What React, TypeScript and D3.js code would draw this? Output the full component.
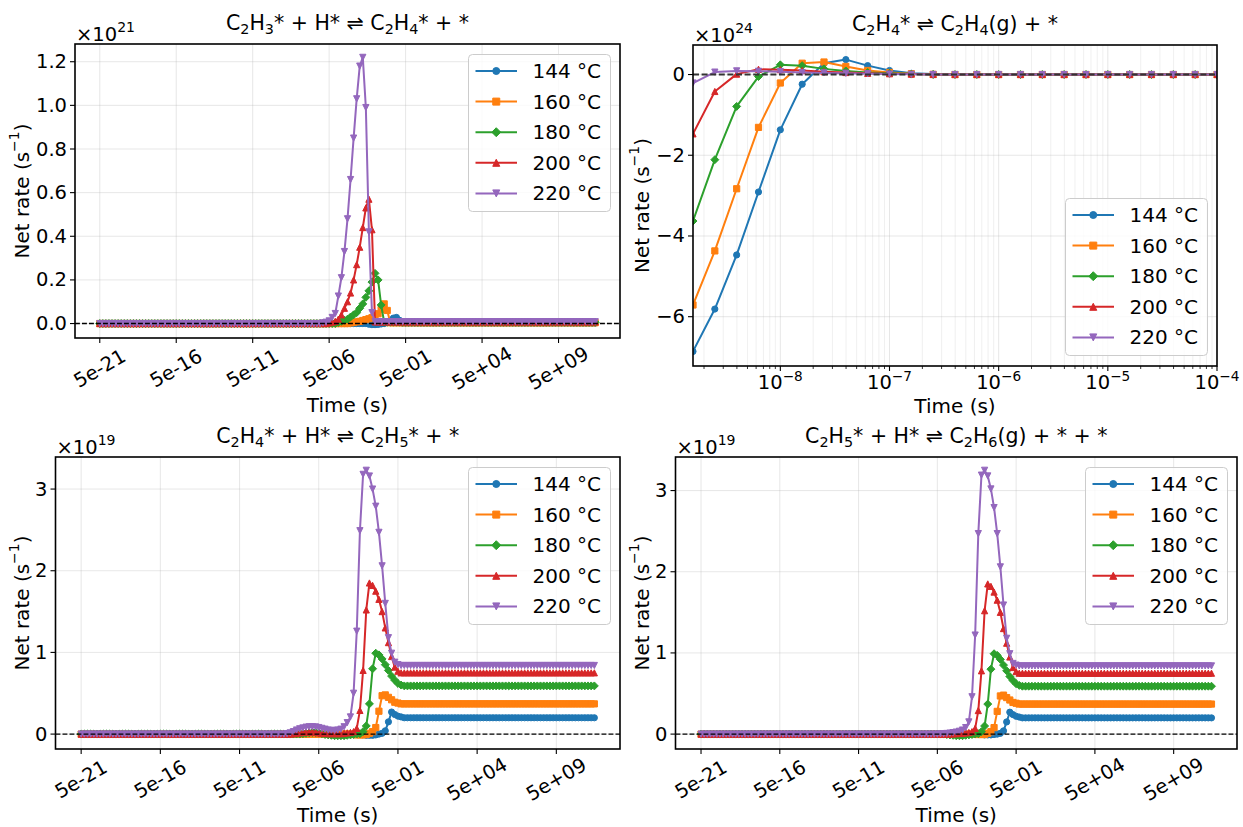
import React from 'react';
import * as d3 from 'd3';

const FONT = "'DejaVu Sans', 'Noto Sans', sans-serif";
const W = 1243;
const H = 827;

const TICK_FS = 19.5;
const LABEL_FS = 20;
const TITLE_FS = 20.5;
const LEGEND_FS = 20;
const MS = 6.2;

const temperatureLabels = ['144 °C', '160 °C', '180 °C', '200 °C', '220 °C'];
const seriesColors = ['#1f77b4', '#ff7f0e', '#2ca02c', '#d62728', '#9467bd'];
const markerShapes = ['circle', 'square', 'diamond', 'triangleUp', 'triangleDown'];

// Long transient: solver output instants from 5e-21 s, five per decade
const longRunStart = 5e-21;
const longRunCount = 163;
const longRunTimes = d3.range(longRunCount).map((i) => longRunStart * Math.pow(10, i / 5));
const longRunTickLabels = ['5e-21', '5e-16', '5e-11', '5e-06', '5e-01', '5e+04', '5e+09'];

// Early window of the desorption step, log10 of each output instant
const desorptionLogTimes = [
  -8.8, -8.6, -8.4, -8.2, -8.0, -7.8, -7.6, -7.4, -7.2, -7.0, -6.8, -6.6, -6.4,
  -6.2, -6.0, -5.8, -5.6, -5.4, -5.2, -5.0, -4.8, -4.6, -4.4, -4.2, -4.0,
];
const desorptionTickExps = [-8, -7, -6, -5, -4];

// ---- C2H3* + H* ⇌ C2H4* + *  (×1e21 s⁻¹) ----
const vinylStart = [88, 82, 78, 75, 73];
const vinylFinal = [0.002, 0.0037, 0.0059, 0.0075, 0.0084];
const vinyl144 = [-0.003, -0.005, -0.005, -0.004, -0.002, 0.0, 0.005, 0.015, 0.025, 0.028, 0.015];
const vinyl160 = [0.003, 0.005, 0.008, 0.01, 0.014, 0.018, 0.022, 0.027, 0.035, 0.045, 0.065, 0.09, 0.06];
const vinyl180 = [0.005, 0.01, 0.015, 0.02, 0.03, 0.04, 0.05, 0.07, 0.09, 0.12, 0.15, 0.19, 0.23, 0.2, 0.085];
const vinyl200 = [0.003, 0.006, 0.01, 0.02, 0.04, 0.07, 0.1, 0.14, 0.2, 0.27, 0.35, 0.44, 0.53, 0.57, 0.43];
const vinyl220 = [0.003, 0.006, 0.012, 0.028, 0.046, 0.126, 0.21, 0.33, 0.48, 0.66, 0.85, 1.03, 1.18, 1.22, 0.99, 0.42, 0.05];

// ---- C2H4* ⇌ C2H4(g) + *  (×1e24 s⁻¹) ----
const desorb144 = [-6.86, -5.81, -4.47, -2.91, -1.37, -0.24, 0.28, 0.37, 0.22, 0.1, 0.03, 0.01, 0, 0, 0, 0, 0, 0, 0, 0, 0, 0, 0, 0, 0];
const desorb160 = [-5.71, -4.37, -2.83, -1.31, -0.21, 0.28, 0.31, 0.2, 0.1, 0.05, 0.02, 0.005, 0, 0, 0, 0, 0, 0, 0, 0, 0, 0, 0, 0, 0];
const desorb180 = [-3.63, -2.11, -0.79, -0.05, 0.24, 0.22, 0.14, 0.09, 0.05, 0.03, 0.01, 0, 0, 0, 0, 0, 0, 0, 0, 0, 0, 0, 0, 0, 0];
const desorb200 = [-1.47, -0.42, 0.01, 0.13, 0.12, 0.1, 0.07, 0.05, 0.03, 0.02, 0.01, 0, 0, 0, 0, 0, 0, 0, 0, 0, 0, 0, 0, 0, 0];
const desorb220 = [-0.21, 0.06, 0.09, 0.08, 0.07, 0.05, 0.04, 0.03, 0.02, 0.01, 0.005, 0, 0, 0, 0, 0, 0, 0, 0, 0, 0, 0, 0, 0, 0];

// ---- C2H4* + H* ⇌ C2H5* + *  (×1e19 s⁻¹) ----
const ethylStart = [88, 86, 70, 67, 65];
const ethylFinal = [0.2, 0.37, 0.59, 0.75, 0.84];
const ethyl144 = [-0.005, -0.01, -0.015, -0.015, -0.015, -0.01, 0.0, 0.01, 0.04, 0.15, 0.27, 0.24, 0.22, 0.21];
const ethyl160 = [-0.005, -0.01, -0.01, -0.01, -0.005, 0.01, 0.03, 0.08, 0.28, 0.47, 0.48, 0.45, 0.42, 0.39, 0.38];
const ethyl180 = [
  0.005, 0.01, 0.015, 0.02, 0.02, 0.015, 0.005, -0.005, -0.01, -0.015, -0.02, -0.02, -0.02, -0.02, -0.015, -0.01,
  -0.005, 0.0, 0.005, 0.03, 0.1, 0.37, 0.8, 0.99, 0.97, 0.92, 0.85, 0.78, 0.71, 0.66, 0.62, 0.6,
];
const ethyl200 = [
  0.005, 0.01, 0.015, 0.02, 0.025, 0.025, 0.025, 0.02, 0.015, 0.01, 0.008, 0.005, 0.005, 0.005, 0.005, 0.005, 0.01,
  0.015, 0.02, 0.03, 0.07, 0.29, 0.78, 1.52, 1.85, 1.82, 1.75, 1.65, 1.5, 1.3, 1.12, 0.95, 0.82, 0.77,
];
const ethyl220 = [
  0.005, 0.015, 0.03, 0.05, 0.065, 0.075, 0.085, 0.09, 0.09, 0.088, 0.08, 0.07, 0.06, 0.05, 0.045, 0.045, 0.05,
  0.06, 0.09, 0.14, 0.21, 0.5, 1.26, 2.49, 3.18, 3.23, 3.16, 3.0, 2.79, 2.47, 2.06, 1.6, 1.18, 0.99, 0.88, 0.85,
];

// ---- C2H5* + H* ⇌ C2H6(g) + * + *  (×1e19 s⁻¹) ----
const ethaneStart = [90, 88, 78, 80, 76];
const ethaneFinal = [0.2, 0.37, 0.59, 0.75, 0.84];
const ethane144 = [-0.01, -0.01, -0.01, -0.005, 0.0, 0.01, 0.04, 0.15, 0.27, 0.24, 0.22, 0.21];
const ethane160 = [-0.005, -0.005, -0.005, 0.01, 0.03, 0.08, 0.28, 0.47, 0.48, 0.45, 0.42, 0.39, 0.38];
const ethane180 = [-0.005, -0.01, -0.015, -0.02, -0.02, -0.02, -0.015, -0.01, -0.005, 0.0, 0.005, 0.03, 0.1, 0.37, 0.8, 0.99, 0.97, 0.92, 0.85, 0.78, 0.71, 0.66, 0.62, 0.6];
const ethane200 = [0.003, 0.005, 0.008, 0.01, 0.015, 0.02, 0.03, 0.07, 0.29, 0.78, 1.52, 1.85, 1.82, 1.75, 1.65, 1.5, 1.3, 1.12, 0.95, 0.82, 0.77];
const ethane220 = [0.003, 0.005, 0.008, 0.012, 0.018, 0.025, 0.035, 0.05, 0.08, 0.15, 0.46, 1.22, 2.47, 3.19, 3.25, 3.18, 3.02, 2.79, 2.47, 2.06, 1.59, 1.18, 0.99, 0.87, 0.85];

// One value per long-run instant: zero before the burst, the burst samples, then the steady-state rate
function assemble(start: number, burst: number[], final: number): number[] {
  return longRunTimes.map((_, i) => (i < start ? 0 : i < start + burst.length ? burst[i - start] : final));
}

type Box = { l: number; r: number; t: number; b: number };

interface PanelSpec {
  id: string;
  box: Box;
  title: string;
  exponent: string;
  times: number[];
  values: number[][];
  xDomain: [number, number];
  xMajor: number[];
  xMajorLabels: string[];
  rotatedX: boolean;
  xMinor: number[];
  yTicks: number[];
  yTickLabels: string[];
  yLabelX: number;
  xLabelY: number;
  legend: 'upper right' | 'lower right';
  zeroStroke: string;
  zeroWidth: number;
  zeroDash: string;
}

function paddedLogDomain(times: number[]): [number, number] {
  const lo = Math.log10(d3.min(times) as number);
  const hi = Math.log10(d3.max(times) as number);
  const pad = (hi - lo) * 0.05;
  return [Math.pow(10, lo - pad), Math.pow(10, hi + pad)];
}

const longTickValues = longRunTickLabels.map((s) => Number(s));
const fmtMinus = (v: number) => (v < 0 ? '\u2212' + Math.abs(v) : String(v));

const panels: PanelSpec[] = [
  {
    id: 'vinyl',
    box: { l: 75, r: 620, t: 44, b: 338 },
    title: 'C_2H_3* + H* \u21cc C_2H_4* + *',
    exponent: '21',
    times: longRunTimes,
    values: [0, 1, 2, 3, 4].map((i) =>
      assemble(vinylStart[i], [vinyl144, vinyl160, vinyl180, vinyl200, vinyl220][i], vinylFinal[i])
    ),
    xDomain: paddedLogDomain(longRunTimes),
    xMajor: longTickValues,
    xMajorLabels: longRunTickLabels,
    rotatedX: true,
    xMinor: [],
    yTicks: [0, 0.2, 0.4, 0.6, 0.8, 1.0, 1.2],
    yTickLabels: ['0.0', '0.2', '0.4', '0.6', '0.8', '1.0', '1.2'],
    yLabelX: 22,
    xLabelY: 412,
    legend: 'upper right',
    zeroStroke: '#000',
    zeroWidth: 1.4,
    zeroDash: '4.9 2.1',
  },
  {
    id: 'desorb',
    box: { l: 693, r: 1217, t: 45, b: 366 },
    title: 'C_2H_4* \u21cc C_2H_4(g) + *',
    exponent: '24',
    times: desorptionLogTimes.map((e) => Math.pow(10, e)),
    values: [desorb144, desorb160, desorb180, desorb200, desorb220],
    xDomain: [Math.pow(10, desorptionLogTimes[0]), Math.pow(10, desorptionLogTimes[desorptionLogTimes.length - 1])],
    xMajor: desorptionTickExps.map((e) => Math.pow(10, e)),
    xMajorLabels: desorptionTickExps.map((e) => '10^{' + fmtMinus(e) + '}'),
    rotatedX: false,
    xMinor: d3.range(-9, -4).flatMap((e) => d3.range(2, 10).map((m) => m * Math.pow(10, e))),
    yTicks: [-6, -4, -2, 0],
    yTickLabels: [-6, -4, -2, 0].map(fmtMinus),
    yLabelX: 642,
    xLabelY: 413,
    legend: 'lower right',
    zeroStroke: '#333',
    zeroWidth: 1.8,
    zeroDash: '6 2.6',
  },
  {
    id: 'ethyl',
    box: { l: 55.5, r: 620, t: 457, b: 749 },
    title: 'C_2H_4* + H* \u21cc C_2H_5* + *',
    exponent: '19',
    times: longRunTimes,
    values: [0, 1, 2, 3, 4].map((i) =>
      assemble(ethylStart[i], [ethyl144, ethyl160, ethyl180, ethyl200, ethyl220][i], ethylFinal[i])
    ),
    xDomain: paddedLogDomain(longRunTimes),
    xMajor: longTickValues,
    xMajorLabels: longRunTickLabels,
    rotatedX: true,
    xMinor: [],
    yTicks: [0, 1, 2, 3],
    yTickLabels: ['0', '1', '2', '3'],
    yLabelX: 22,
    xLabelY: 822,
    legend: 'upper right',
    zeroStroke: '#000',
    zeroWidth: 1.4,
    zeroDash: '4.9 2.1',
  },
  {
    id: 'ethane',
    box: { l: 675.5, r: 1237, t: 457, b: 749 },
    title: 'C_2H_5* + H* \u21cc C_2H_6(g) + * + *',
    exponent: '19',
    times: longRunTimes,
    values: [0, 1, 2, 3, 4].map((i) =>
      assemble(ethaneStart[i], [ethane144, ethane160, ethane180, ethane200, ethane220][i], ethaneFinal[i])
    ),
    xDomain: paddedLogDomain(longRunTimes),
    xMajor: longTickValues,
    xMajorLabels: longRunTickLabels,
    rotatedX: true,
    xMinor: [],
    yTicks: [0, 1, 2, 3],
    yTickLabels: ['0', '1', '2', '3'],
    yLabelX: 642,
    xLabelY: 822,
    legend: 'upper right',
    zeroStroke: '#000',
    zeroWidth: 1.4,
    zeroDash: '4.9 2.1',
  },
];

// Tiny markup: _x or _{..} subscript, ^x or ^{..} superscript
function rich(text: string, fs: number, keyBase: string, supScale = 0.7) {
  const parts: { t: string; k: 'n' | 'sub' | 'sup' }[] = [];
  let buf = '';
  let i = 0;
  while (i < text.length) {
    const c = text[i];
    if (c === '_' || c === '^') {
      if (buf) parts.push({ t: buf, k: 'n' });
      buf = '';
      let content: string;
      if (text[i + 1] === '{') {
        const j = text.indexOf('}', i);
        content = text.slice(i + 2, j);
        i = j + 1;
      } else {
        content = text[i + 1];
        i += 2;
      }
      parts.push({ t: content, k: c === '_' ? 'sub' : 'sup' });
    } else {
      buf += c;
      i += 1;
    }
  }
  if (buf) parts.push({ t: buf, k: 'n' });
  let shift = 0;
  return parts.map((p, idx) => {
    const target = p.k === 'sub' ? 0.2 * fs : p.k === 'sup' ? -0.42 * fs : 0;
    const dy = target - shift;
    shift = target;
    return (
      <tspan key={keyBase + idx} dy={dy} fontSize={p.k === 'n' ? fs : fs * supScale}>
        {p.t}
      </tspan>
    );
  });
}

function markerPath(shape: string, s: number): string {
  const h = s / 2;
  switch (shape) {
    case 'circle':
      return `M${h},0A${h},${h} 0 1,1 ${-h},0A${h},${h} 0 1,1 ${h},0Z`;
    case 'square':
      return `M${-h},${-h}H${h}V${h}H${-h}Z`;
    case 'diamond': {
      const d = s * 0.64;
      return `M0,${-d}L${d},0L0,${d}L${-d},0Z`;
    }
    case 'triangleUp':
      return `M0,${-h}L${h},${h}L${-h},${h}Z`;
    default:
      return `M0,${h}L${h},${-h}L${-h},${-h}Z`;
  }
}

function Panel({ spec }: { spec: PanelSpec }) {
  const { box } = spec;
  const x = d3.scaleLog().domain(spec.xDomain).range([box.l, box.r]);
  const all = spec.values.flat();
  const lo = d3.min(all) as number;
  const hi = d3.max(all) as number;
  const pad = (hi - lo) * 0.05;
  const y = d3.scaleLinear().domain([lo - pad, hi + pad]).range([box.b, box.t]);
  const line = d3
    .line<number>()
    .x((_, i) => x(spec.times[i]))
    .y((v) => y(v));
  const clipId = 'clip-' + spec.id;
  const tickLen = 5;
  const cx = (box.l + box.r) / 2;
  const cy = (box.t + box.b) / 2;
  const minors = spec.xMinor.filter((v) => v > spec.xDomain[0] && v < spec.xDomain[1]);

  // legend geometry
  const legW = 142;
  const legH = 157;
  const legR = box.r - 9.5;
  const legT = spec.legend === 'upper right' ? box.t + 10.5 : box.b - 10.5 - legH;
  const legL = legR - legW;

  return (
    <g>
      <defs>
        <clipPath id={clipId}>
          <rect x={box.l} y={box.t} width={box.r - box.l} height={box.b - box.t} />
        </clipPath>
      </defs>
      {/* grid */}
      <g stroke="#b0b0b0" strokeWidth={0.9}>
        {minors.map((v, i) => (
          <line key={'gm' + i} x1={x(v)} x2={x(v)} y1={box.t} y2={box.b} strokeOpacity={0.22} />
        ))}
        {spec.xMajor.map((v, i) => (
          <line key={'gx' + i} x1={x(v)} x2={x(v)} y1={box.t} y2={box.b} strokeOpacity={0.35} />
        ))}
        {spec.yTicks.map((v, i) => (
          <line key={'gy' + i} x1={box.l} x2={box.r} y1={y(v)} y2={y(v)} strokeOpacity={0.35} />
        ))}
      </g>
      {/* series */}
      <g clipPath={`url(#${clipId})`}>
        {spec.values.map((vals, si) => (
          <g key={'s' + si}>
            <path d={line(vals) as string} fill="none" stroke={seriesColors[si]} strokeWidth={2} strokeLinejoin="round" />
            {vals.map((v, i) => (
              <path
                key={i}
                d={markerPath(markerShapes[si], MS)}
                transform={`translate(${x(spec.times[i])},${y(v)})`}
                fill={seriesColors[si]}
                stroke={seriesColors[si]}
                strokeWidth={1}
              />
            ))}
          </g>
        ))}
        <line
          x1={box.l}
          x2={box.r}
          y1={y(0)}
          y2={y(0)}
          stroke={spec.zeroStroke}
          strokeWidth={spec.zeroWidth}
          strokeDasharray={spec.zeroDash}
        />
      </g>
      {/* spines */}
      <rect x={box.l} y={box.t} width={box.r - box.l} height={box.b - box.t} fill="none" stroke="#000" strokeWidth={1.6} />
      {/* y ticks */}
      {spec.yTicks.map((v, i) => (
        <g key={'yt' + i}>
          <line x1={box.l - tickLen} x2={box.l} y1={y(v)} y2={y(v)} stroke="#000" strokeWidth={1.1} />
          <text
            x={box.l - tickLen - 3}
            y={y(v)}
            textAnchor="end"
            dominantBaseline="central"
            fontSize={TICK_FS}
            fontFamily={FONT}
            fill="#000"
          >
            {spec.yTickLabels[i]}
          </text>
        </g>
      ))}
      {/* x minor ticks */}
      {minors.map((v, i) => (
        <line key={'xm' + i} x1={x(v)} x2={x(v)} y1={box.b} y2={box.b + 3} stroke="#000" strokeWidth={0.8} />
      ))}
      {/* x major ticks */}
      {spec.xMajor.map((v, i) => {
        const px = x(v);
        const label = spec.xMajorLabels[i];
        if (spec.rotatedX) {
          const w = label.length * 0.58 * TICK_FS;
          const ly = box.b + tickLen + 2 + (w / 2) * 0.5 + TICK_FS * 0.55 * 0.866;
          return (
            <g key={'xt' + i}>
              <line x1={px} x2={px} y1={box.b} y2={box.b + tickLen} stroke="#000" strokeWidth={1.1} />
              <text
                x={px}
                y={ly}
                textAnchor="middle"
                dominantBaseline="central"
                transform={`rotate(-30,${px},${ly})`}
                fontSize={TICK_FS}
                fontFamily={FONT}
                fill="#000"
              >
                {label}
              </text>
            </g>
          );
        }
        return (
          <g key={'xt' + i}>
            <line x1={px} x2={px} y1={box.b} y2={box.b + tickLen} stroke="#000" strokeWidth={1.1} />
            <text x={px} y={box.b + 23} textAnchor="middle" fontSize={TICK_FS} fontFamily={FONT} fill="#000">
              {rich(label, TICK_FS, 'xl' + i)}
            </text>
          </g>
        );
      })}
      {/* offset exponent */}
      <text x={box.l + 1} y={box.t - 3.5} fontSize={TICK_FS} fontFamily={FONT} fill="#000">
        {rich('\u00d710^{' + spec.exponent + '}', TICK_FS, 'ex', 0.72)}
      </text>
      {/* title */}
      <text x={cx} y={box.t - 14.5} textAnchor="middle" fontSize={TITLE_FS} fontFamily={FONT} fill="#000" style={{ whiteSpace: 'pre' }}>
        {rich(spec.title, TITLE_FS, 'ti')}
      </text>
      {/* axis labels */}
      <text x={cx} y={spec.xLabelY} textAnchor="middle" fontSize={LABEL_FS} fontFamily={FONT} fill="#000">
        Time (s)
      </text>
      <text
        x={spec.yLabelX}
        y={cy}
        textAnchor="middle"
        dominantBaseline="central"
        transform={`rotate(-90,${spec.yLabelX},${cy})`}
        fontSize={LABEL_FS}
        fontFamily={FONT}
        fill="#000"
        style={{ whiteSpace: 'pre' }}
      >
        {rich('Net rate (s^{\u22121})', LABEL_FS, 'yl')}
      </text>
      {/* legend */}
      <g>
        <rect x={legL} y={legT} width={legW} height={legH} rx={4} fill="#fff" fillOpacity={0.8} stroke="#cccccc" strokeWidth={1} />
        {temperatureLabels.map((lab, i) => {
          const ry = legT + 16.5 + i * 30.6;
          const hx0 = legL + 7;
          const hx1 = legL + 48.5;
          return (
            <g key={'lg' + i}>
              <line x1={hx0} x2={hx1} y1={ry} y2={ry} stroke={seriesColors[i]} strokeWidth={2} />
              <path
                d={markerPath(markerShapes[i], MS + 0.8)}
                transform={`translate(${(hx0 + hx1) / 2},${ry})`}
                fill={seriesColors[i]}
                stroke={seriesColors[i]}
                strokeWidth={1}
              />
              <text x={legL + 64} y={ry} dominantBaseline="central" fontSize={LEGEND_FS} fontFamily={FONT} fill="#000">
                {lab}
              </text>
            </g>
          );
        })}
      </g>
    </g>
  );
}

export default function App() {
  return (
    <div style={{ position: 'absolute', left: 0, top: 0, width: W, height: H, background: '#fff' }}>
      <svg width={W} height={H} viewBox={`0 0 ${W} ${H}`} style={{ display: 'block' }}>
        <rect x={0} y={0} width={W} height={H} fill="#fff" />
        {panels.map((p) => (
          <Panel key={p.id} spec={p} />
        ))}
      </svg>
    </div>
  );
}
